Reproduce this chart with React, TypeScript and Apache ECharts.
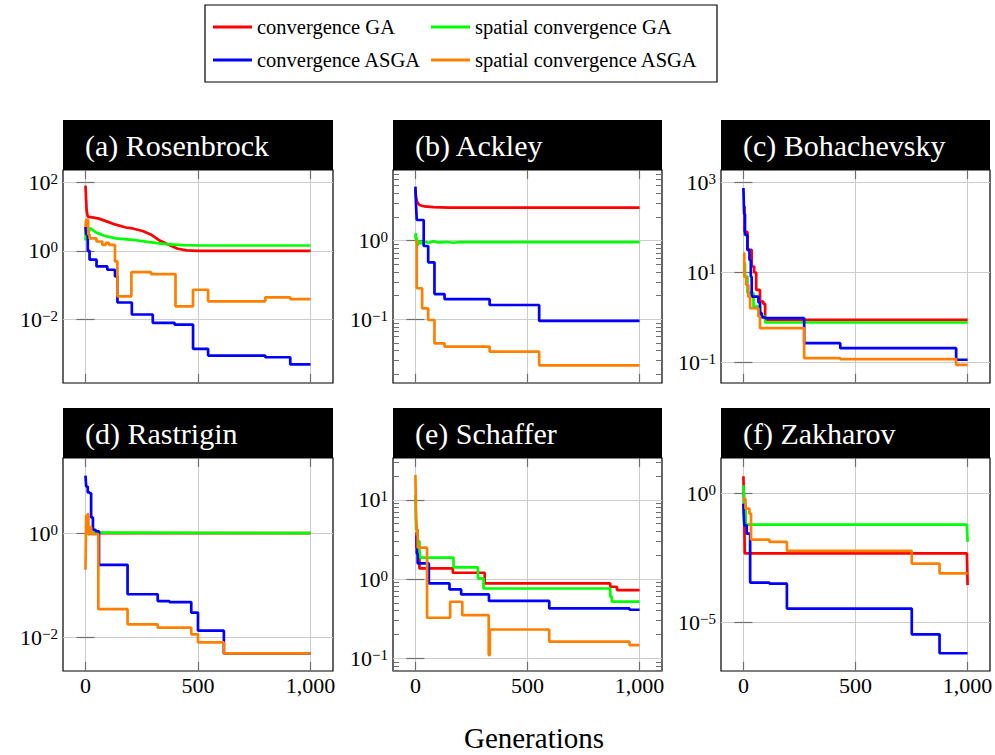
import React, { useEffect, useRef } from "react";
import * as echarts from "echarts";

const seriesNames = ["convergence GA", "spatial convergence GA", "convergence ASGA", "spatial convergence ASGA"];
const seriesColors = ["#ff0000", "#00ff00", "#0000ff", "#ff8000"];
const panelTitles = ["(a) Rosenbrock", "(b) Ackley", "(c) Bohachevsky", "(d) Rastrigin", "(e) Schaffer", "(f) Zakharov"];
const xTickValues = [0, 500, 1000];
const xAxisTitle = "Generations";

// (a) Rosenbrock
const rosenbrockGA = [[0, 80], [2, 40], [5, 15], [10, 10], [30, 9.5], [60, 8.7], [100, 7], [134, 5.8], [180, 4.8], [209, 4.5], [254, 3.8], [290, 3.0], [330, 2.0], [370, 1.5], [410, 1.15], [450, 1.03], [500, 1.0], [1000, 1.0]];
const rosenbrockSpatialGA = [[0, 2.0], [2, 5], [4, 2.5], [7, 4.5], [12, 3.2], [20, 4.6], [30, 4.2], [45, 3.5], [80, 2.8], [134, 2.3], [209, 2.1], [284, 1.8], [358, 1.56], [433, 1.46], [507, 1.43], [1000, 1.43]];
const rosenbrockASGA = [[0, 5], [3, 3], [10, 1], [18, 0.55], [49, 0.35], [97, 0.28], [131, 0.18], [142, 0.031], [206, 0.0138], [299, 0.0079], [396, 0.007], [478, 0.00137], [545, 0.00087], [799, 0.00078], [910, 0.00048], [1000, 0.00048]];
const rosenbrockSpatialASGA = [[0, 5], [3, 8], [12, 3], [18, 2.3], [49, 1.87], [75, 1.5], [90, 1.7], [104, 1.5], [131, 0.49], [142, 0.047], [204, 0.24], [291, 0.21], [400, 0.024], [478, 0.073], [545, 0.0335], [799, 0.0437], [910, 0.039], [1000, 0.039]];
const rosenbrockTicks = [1e-2, 1, 1e2];

// (b) Ackley
const ackleyGA = [[0, 4.4], [3, 3.5], [8, 3.1], [18, 2.84], [40, 2.72], [80, 2.66], [150, 2.63], [1000, 2.63]];
const ackleySpatialGA = [[0, 1.05], [2, 1.25], [4, 0.95], [6, 1.1], [9, 0.85], [12, 1.0], [16, 0.9], [20, 0.98], [30, 0.92], [40, 0.97], [60, 0.94], [80, 0.98], [100, 0.95], [140, 0.96], [170, 0.94], [200, 0.96], [1000, 0.96]];
const ackleyASGA = [[0, 4.86], [3, 2.7], [6, 1.83], [37, 0.855], [57, 0.53], [85, 0.209], [130, 0.18], [331, 0.152], [552, 0.0954], [1000, 0.0954]];
const ackleySpatialASGA = [[0, 1.0], [6, 0.248], [30, 0.138], [57, 0.098], [85, 0.0495], [130, 0.045], [331, 0.0389], [552, 0.026], [1000, 0.026]];
const ackleyTicks = [0.1, 1];

// (c) Bohachevsky
const bohachevskyGA = [[0, 295], [5, 80], [18, 32], [37, 13.6], [48, 10], [57, 4.1], [74, 2.26], [89, 2.0], [97, 0.88], [1000, 0.88]];
const bohachevskySpatialGA = [[0, 16], [7, 8.1], [18, 3.5], [45, 1.75], [74, 1.05], [97, 0.77], [1000, 0.77]];
const bohachevskyASGA = [[0, 760], [3, 200], [7, 69], [18, 32], [27, 19], [33, 8], [37, 2.9], [67, 2.15], [74, 1.24], [82, 1.0], [97, 0.96], [271, 0.267], [432, 0.206], [949, 0.114], [1000, 0.114]];
const bohachevskySpatialASGA = [[0, 27], [4, 8], [12, 5.3], [22, 2.9], [30, 1.6], [67, 1.05], [74, 0.575], [271, 0.124], [432, 0.118], [949, 0.088], [1000, 0.088]];
const bohachevskyTicks = [0.1, 10, 1000];

// (d) Rastrigin
const rastriginGA = [[0, 1.05], [15, 1.0], [1000, 1.0]];
const rastriginSpatialGA = [[0, 1.1], [10, 1.02], [20, 1.0], [1000, 1.0]];
const rastriginASGA = [[0, 12.6], [3, 7.8], [10, 6], [18, 5.8], [25, 2], [33, 1.16], [45, 1.08], [60, 0.247], [187, 0.0677], [321, 0.05], [373, 0.048], [470, 0.03], [500, 0.0136], [615, 0.005], [1000, 0.005]];
const rastriginSpatialASGA = [[0, 0.2], [3, 2.2], [6, 1.2], [9, 2.3], [13, 0.95], [18, 1.3], [25, 0.96], [57, 0.035], [187, 0.018], [321, 0.0155], [470, 0.0116], [500, 0.0081], [615, 0.005], [1000, 0.005]];
const rastriginTicks = [0.01, 1];

// (e) Schaffer
const schafferGA = [[0, 3.8], [5, 2.5], [10, 2], [18, 1.36], [167, 1.2], [309, 0.88], [869, 0.8], [899, 0.726], [1000, 0.726]];
const schafferSpatialGA = [[0, 11.5], [3, 4.2], [10, 3.0], [18, 2.3], [21, 1.86], [170, 1.4], [279, 1.02], [304, 0.76], [869, 0.6], [876, 0.52], [1000, 0.52]];
const schafferASGA = [[0, 3.4], [6, 2.1], [10, 1.58], [60, 0.88], [152, 0.74], [204, 0.64], [328, 0.53], [597, 0.426], [955, 0.41], [1000, 0.41]];
const schafferSpatialASGA = [[0, 20.6], [3, 6], [6, 4.2], [10, 2.49], [52, 0.325], [155, 0.517], [209, 0.35], [327, 0.11], [332, 0.231], [597, 0.162], [955, 0.147], [1000, 0.147]];
const schafferTicks = [0.1, 1, 10];

// (f) Zakharov
const zakharovGA = [[0, 4.4], [3, 0.3], [6, 0.0047], [997, 0.0047], [1000, 0.00028]];
const zakharovSpatialGA = [[0, 2.0], [3, 0.4], [10, 0.06], [997, 0.06], [1000, 0.013]];
const zakharovASGA = [[0, 0.39], [1, 0.186], [4, 0.057], [15, 0.027], [30, 0.00035], [116, 0.00032], [194, 3.5e-5], [751, 3.55e-6], [875, 6.6e-7], [1000, 6.6e-7]];
const zakharovSpatialASGA = [[0, 0.6], [9, 0.25], [27, 0.16], [34, 0.016], [116, 0.013], [194, 0.0059], [751, 0.0019], [875, 0.00079], [1000, 0.00079]];
const zakharovTicks = [1e-5, 1];

const FONT = "'Liberation Serif', 'Times New Roman', serif";
const GRID_COLOR = "#cccccc";
const TICK_COLOR = "#6e6e6e";

function minorTicks(lo: number, hi: number) {
  const out: number[] = [];
  for (let e = lo; e <= hi; e++) for (let m = 2; m <= 9; m++) out.push(m * Math.pow(10, e));
  return out;
}

const panels = [
  { left: 63, top: 170, width: 270, height: 213, logMin: -3.86, logMax: 2.36, ticks: rosenbrockTicks, minor: false, data: [rosenbrockGA, rosenbrockSpatialGA, rosenbrockASGA, rosenbrockSpatialASGA], smooth: [true, true, false, false], bottomRow: false },
  { left: 393, top: 170, width: 269, height: 213, logMin: -1.81, logMax: 0.898, ticks: ackleyTicks, minor: true, data: [ackleyGA, ackleySpatialGA, ackleyASGA, ackleySpatialASGA], smooth: [true, true, false, false], bottomRow: false },
  { left: 721, top: 170, width: 269, height: 213, logMin: -1.461, logMax: 3.283, ticks: bohachevskyTicks, minor: false, data: [bohachevskyGA, bohachevskySpatialGA, bohachevskyASGA, bohachevskySpatialASGA], smooth: [false, false, false, false], bottomRow: false },
  { left: 63, top: 458, width: 270, height: 213, logMin: -2.638, logMax: 1.437, ticks: rastriginTicks, minor: false, data: [rastriginGA, rastriginSpatialGA, rastriginASGA, rastriginSpatialASGA], smooth: [false, false, false, false], bottomRow: true },
  { left: 393, top: 458, width: 269, height: 213, logMin: -1.16, logMax: 1.527, ticks: schafferTicks, minor: true, data: [schafferGA, schafferSpatialGA, schafferASGA, schafferSpatialASGA], smooth: [false, false, false, false], bottomRow: true },
  { left: 721, top: 458, width: 269, height: 213, logMin: -6.865, logMax: 1.351, ticks: zakharovTicks, minor: false, data: [zakharovGA, zakharovSpatialGA, zakharovASGA, zakharovSpatialASGA], smooth: [false, false, false, false], bottomRow: true },
];

function yLabel(v: number) {
  const e = Math.round(Math.log10(v));
  const s = e < 0 ? "\u2212" + -e : String(e);
  return `{b|10}{s|${s}}`;
}

function buildOption() {
  const grids: any[] = [];
  const xAxes: any[] = [];
  const yAxes: any[] = [];
  const series: any[] = [];
  const graphics: any[] = [];

  panels.forEach((p, i) => {
    grids.push({
      left: p.left, top: p.top, width: p.width, height: p.height,
      show: true, borderColor: "#000", borderWidth: 1.2, backgroundColor: "transparent",
      containLabel: false, outerBoundsMode: "none",
    });
    const xi = xAxes.length;
    xAxes.push({
      type: "value", gridIndex: i, min: -100, max: 1100, position: "bottom",
      axisLine: { show: false },
      axisTick: { show: true, inside: true, length: 9, customValues: xTickValues, lineStyle: { color: TICK_COLOR, width: 1.2 } },
      splitLine: { show: true, lineStyle: { color: GRID_COLOR, width: 1 } },
      axisLabel: {
        show: p.bottomRow, customValues: xTickValues, margin: 3,
        formatter: (v: number) => v.toLocaleString("en-US"),
        fontSize: 22, fontFamily: FONT, color: "#000",
      },
    });
    xAxes.push({
      type: "value", gridIndex: i, min: -100, max: 1100, position: "top",
      axisLine: { show: false },
      axisTick: { show: true, inside: true, length: 9, customValues: xTickValues, lineStyle: { color: TICK_COLOR, width: 1.2 } },
      splitLine: { show: false }, axisLabel: { show: false },
    });
    const yi = yAxes.length;
    const min = Math.pow(10, p.logMin);
    const max = Math.pow(10, p.logMax);
    yAxes.push({
      type: "log", logBase: 10, gridIndex: i, min, max, position: "left",
      axisLine: { show: false },
      axisTick: { show: true, inside: true, length: 9, customValues: p.ticks, lineStyle: { color: TICK_COLOR, width: 1.2 } },
      splitLine: { show: true, lineStyle: { color: GRID_COLOR, width: 1 } },
      axisLabel: {
        show: true, customValues: p.ticks, margin: 5, formatter: yLabel,
        rich: {
          b: { fontSize: 22, fontFamily: FONT, color: "#000", lineHeight: 22 },
          s: { fontSize: 15, fontFamily: FONT, color: "#000", lineHeight: 8, verticalAlign: "top" },
        },
      },
    });
    yAxes.push({
      type: "log", logBase: 10, gridIndex: i, min, max, position: "right",
      axisLine: { show: false },
      axisTick: { show: true, inside: true, length: 9, customValues: p.ticks, lineStyle: { color: TICK_COLOR, width: 1.2 } },
      splitLine: { show: false }, axisLabel: { show: false },
    });
    if (p.minor) {
      const mt = minorTicks(Math.floor(p.logMin), Math.ceil(p.logMax));
      ["left", "right"].forEach((pos) => {
        yAxes.push({
          type: "log", logBase: 10, gridIndex: i, min, max, position: pos,
          axisLine: { show: false },
          axisTick: { show: true, inside: true, length: 6, customValues: mt, lineStyle: { color: TICK_COLOR, width: 1 } },
          splitLine: { show: false }, axisLabel: { show: false },
        });
      });
    }
    p.data.forEach((d, k) => {
      series.push({
        type: "line", name: seriesNames[k], xAxisIndex: xi, yAxisIndex: yi, data: d,
        step: p.smooth[k] ? false : "end", symbol: "none", showSymbol: false,
        lineStyle: { color: seriesColors[k], width: 2.7 }, itemStyle: { color: seriesColors[k] },
        z: 2 + k, silent: true,
      });
    });
    // title banner
    const bTop = p.top - 50;
    graphics.push({ type: "rect", shape: { x: p.left, y: bTop, width: p.width, height: 50 }, style: { fill: "#000" }, silent: true });
    graphics.push({
      type: "text", x: p.left + 22, y: bTop + 25,
      style: { text: panelTitles[i], fill: "#fff", fontSize: 30, fontFamily: FONT, align: "left", verticalAlign: "middle" },
      silent: true,
    });
  });

  graphics.push({ type: "rect", shape: { x: 205, y: 5, width: 512, height: 77 }, style: { fill: "none", stroke: "#000", lineWidth: 1.2 }, silent: true });
  graphics.push({
    type: "text", x: 534, y: 738,
    style: { text: xAxisTitle, fill: "#000", fontSize: 29, fontFamily: FONT, align: "center", verticalAlign: "middle" },
    silent: true,
  });

  const legendCommon = {
    orient: "vertical", top: 14, padding: 0, itemWidth: 39, itemHeight: 3, itemGap: 7, icon: "rect",
    selectedMode: false,
    textStyle: { fontSize: 20.5, fontFamily: FONT, color: "#000", lineHeight: 26 },
  };

  return {
    animation: false,
    backgroundColor: "#fff",
    grid: grids,
    xAxis: xAxes,
    yAxis: yAxes,
    series,
    graphic: graphics,
    legend: [
      { ...legendCommon, left: 213, data: [seriesNames[0], seriesNames[2]] },
      { ...legendCommon, left: 431, data: [seriesNames[1], seriesNames[3]] },
    ],
  };
}

export default function App() {
  const ref = useRef<HTMLDivElement>(null);
  useEffect(() => {
    if (!ref.current) return;
    const chart = echarts.init(ref.current, null, { renderer: "svg" });
    chart.setOption(buildOption() as any);
    return () => chart.dispose();
  }, []);
  return <div ref={ref} style={{ position: "fixed", left: 0, top: 0, width: 995, height: 755 }} />;
}
